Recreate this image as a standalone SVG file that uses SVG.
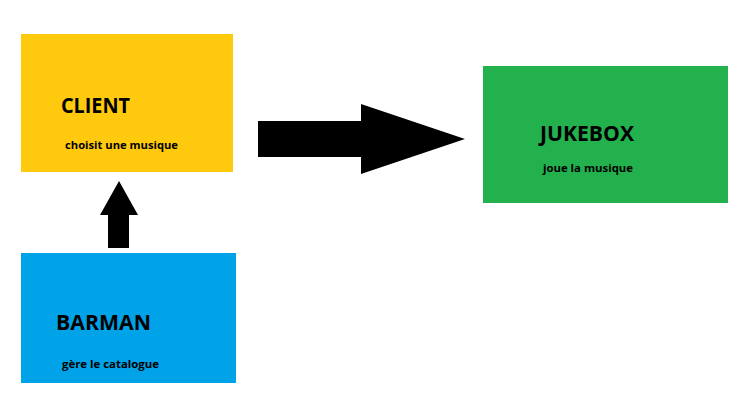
<svg xmlns="http://www.w3.org/2000/svg" width="749" height="419" viewBox="0 0 749 419">
<style>
.t{font-family:"Open Sans","Liberation Sans",sans-serif;font-weight:bold;fill:#000}
.big{font-size:21px}
.small{font-size:10.5px}
</style>
<rect width="749" height="419" fill="#fff"/>
<g id="client">
<rect x="21" y="34" width="212" height="138" fill="#FFC90E"/>
<text class="t big" x="61" y="113" textLength="69" lengthAdjust="spacingAndGlyphs">CLIENT</text>
<text class="t small" x="65" y="149" textLength="113" lengthAdjust="spacingAndGlyphs">choisit une musique</text>
</g>
<g id="jukebox">
<rect x="483" y="66" width="245" height="137" fill="#22B14C"/>
<text class="t big" x="540" y="141" textLength="94" lengthAdjust="spacingAndGlyphs">JUKEBOX</text>
<text class="t small" x="543" y="172" textLength="90" lengthAdjust="spacingAndGlyphs">joue la musique</text>
</g>
<g id="barman">
<rect x="21" y="253" width="215" height="130" fill="#00A2E8"/>
<text class="t big" x="56" y="330" textLength="95" lengthAdjust="spacingAndGlyphs">BARMAN</text>
<text class="t small" x="62" y="368" textLength="97" lengthAdjust="spacingAndGlyphs">gère le catalogue</text>
</g>
<g id="connectors" fill="#000">
<polygon points="258,121 361,121 361,104 465,139 361,174 361,157 258,157"/>
<polygon points="108,248 108,215 100,215 119,181 138,215 129,215 129,248"/>
</g>
</svg>
